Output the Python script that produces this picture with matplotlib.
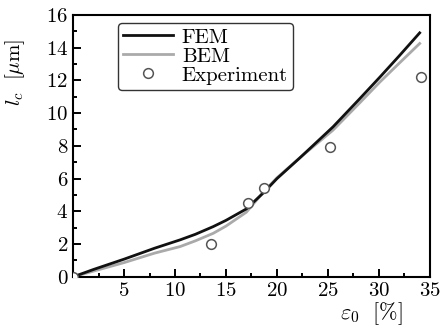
import matplotlib
matplotlib.use("Agg")
import matplotlib.pyplot as plt

plt.rcParams["font.family"] = "serif"
plt.rcParams["font.serif"] = ["cmr10"]
plt.rcParams["mathtext.fontset"] = "cm"
plt.rcParams["axes.formatter.use_mathtext"] = True

# FEM curve
fem_x = [0, 2, 5, 8, 10.5, 12, 13.75, 15, 17, 18.7, 20, 22.2, 25.5, 28, 30.1, 32, 34]
fem_y = [0, 0.45, 1.08, 1.75, 2.26, 2.6, 3.07, 3.45, 4.15, 5.15, 6.0, 7.24, 9.16, 10.8, 12.2, 13.5, 14.9]

# BEM curve
bem_x = [0, 2, 5, 8, 10.5, 12, 13.75, 15, 17, 18.7, 20, 22.2, 25.5, 28, 30.1, 32, 34]
bem_y = [0, 0.35, 0.87, 1.45, 1.85, 2.2, 2.66, 3.1, 3.95, 5.2, 6.05, 7.25, 8.96, 10.55, 11.9, 13.05, 14.25]

# Experiment
exp_x = [0, 13.5, 17.2, 18.7, 25.2, 34.1]
exp_y = [0, 2.0, 4.5, 5.4, 7.9, 12.2]

fig = plt.figure(figsize=(4.4, 3.3), dpi=100)
ax = fig.add_axes([0.166, 0.161, 0.811, 0.794])

ax.plot(fem_x, fem_y, color="#111111", lw=2.0, label="FEM", zorder=3)
ax.plot(bem_x, bem_y, color="#aaaaaa", lw=2.0, label="BEM", zorder=2)
ax.plot(exp_x, exp_y, "o", ms=7, mfc="white", mec="#555555", mew=1.1,
        label="Experiment", zorder=4)

ax.set_xlim(0, 35)
ax.set_ylim(0, 16)
ax.set_xticks([5, 10, 15, 20, 25, 30, 35])
ax.set_xticks([2.5 + 5 * i for i in range(7)], minor=True)
ax.set_yticks(range(0, 17, 2))
ax.set_yticks(range(1, 16, 2), minor=True)
ax.tick_params(which="both", direction="in", width=1.4, labelsize=15)
ax.tick_params(which="major", length=6)
ax.tick_params(which="minor", length=3)
for s in ax.spines.values():
    s.set_linewidth(1.5)

ax.set_xlabel(r"$\varepsilon_0\ \ [\%]$", fontsize=16)
ax.set_ylabel(r"$l_c\ \ [\mu\mathrm{m}]$", fontsize=15)
ax.xaxis.set_label_coords(0.835, -0.09)
ax.yaxis.set_label_coords(-0.13, 0.78)

leg = ax.legend(loc="upper left", bbox_to_anchor=(0.115, 0.985), fontsize=15,
                frameon=True, fancybox=True, edgecolor="black",
                handlelength=2.4, handletextpad=0.4, borderpad=0.25,
                labelspacing=0.02, borderaxespad=0.2)
leg.get_frame().set_linewidth(1.0)

fig.savefig("out.png", dpi=100)
